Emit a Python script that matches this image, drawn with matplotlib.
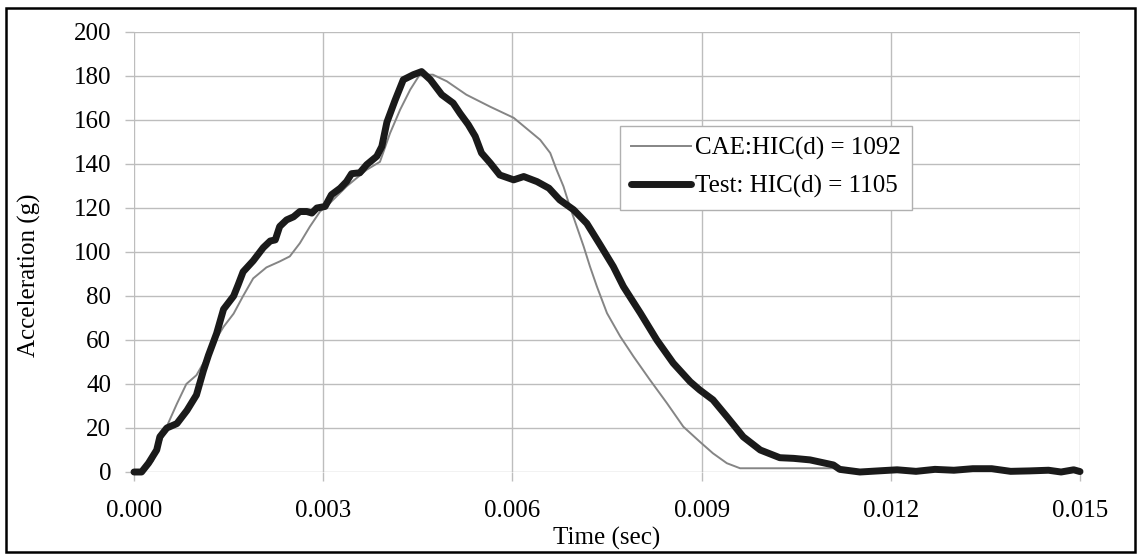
import numpy as np
import matplotlib
matplotlib.use('Agg')
import matplotlib.pyplot as plt
from matplotlib.patches import Rectangle

plt.rcParams['font.family'] = ['Liberation Serif', 'DejaVu Serif']

# test curve (thick black)
test_t = [0, 0.00012, 0.00023, 0.00036, 0.00041, 0.00052, 0.00068, 0.00084, 0.00099, 0.0011,
          0.00118, 0.00131, 0.00142, 0.00158, 0.00165, 0.00173, 0.00189, 0.00205, 0.00216, 0.00224,
          0.00231, 0.00242, 0.00253, 0.00263, 0.00274, 0.00282, 0.0029, 0.00303, 0.00313, 0.00327,
          0.00337, 0.00345, 0.00358, 0.00369, 0.00385, 0.00393, 0.00401, 0.00414, 0.00427, 0.00443,
          0.00456, 0.0047, 0.00488, 0.00506, 0.00517, 0.0053, 0.00541, 0.00551, 0.00565, 0.0058,
          0.00602, 0.00618, 0.00639, 0.00658, 0.00675, 0.00697, 0.00718, 0.00739, 0.0076, 0.00776,
          0.00803, 0.00829, 0.00855, 0.00882, 0.00897, 0.00918, 0.0094, 0.00966, 0.00993, 0.01024,
          0.01046, 0.01072, 0.01109, 0.01119, 0.01151, 0.0118, 0.0121, 0.0124, 0.0127, 0.013,
          0.0133, 0.0136, 0.0139, 0.0142, 0.0145, 0.0147, 0.0149, 0.015]
test_g = [0, 0, 4, 10, 16, 20, 22, 28, 35, 46,
          53, 63, 74, 80, 85, 91, 96, 102, 105, 105.5,
          111.6, 114.6, 116, 118.4, 118.4, 117.7, 120, 120.7, 126, 129,
          132, 135.6, 136, 139.7, 143.5, 148, 159, 169, 178.3, 180.6,
          182, 178.3, 171.5, 167.7, 163, 157.9, 152.6, 145, 140.4, 135,
          132.8, 134.3, 132, 129, 123.7, 119.2, 113, 103.3, 93.4, 84.3,
          72.2, 60, 49.5, 41, 37.3, 32.8, 25.2, 16, 10, 6.5,
          6.2, 5.5, 3.2, 1.2, 0, 0.5, 1, 0.3, 1.2, 0.8,
          1.5, 1.5, 0.3, 0.5, 0.8, 0, 1.0, 0.2]

# CAE curve (thin gray)
cae_t = [0, 0.00015, 0.0003, 0.00054, 0.00068, 0.00083, 0.00099, 0.00113, 0.00126, 0.00142,
         0.00158, 0.00173, 0.00189, 0.0021, 0.00231, 0.00247, 0.00263, 0.00279, 0.00295, 0.00308,
         0.00337, 0.00369, 0.0039, 0.00406, 0.00422, 0.00438, 0.00453, 0.00474, 0.00496, 0.00527,
         0.00565, 0.00602, 0.00623, 0.00644, 0.0066, 0.0067, 0.00681, 0.00691, 0.00702, 0.00713,
         0.00723, 0.00734, 0.0075, 0.00771, 0.00792, 0.00818, 0.00845, 0.00871, 0.00897, 0.00918,
         0.0094, 0.00961, 0.0112, 0.0115, 0.015]
cae_g = [0, 0, 5, 22, 31, 40, 44, 51, 58.5, 66,
         72, 80, 88, 93, 95.7, 98, 104, 111.6, 118.4, 121.5,
         129.8, 137.4, 141, 154, 164.7, 173.8, 180.6, 180.6, 177.6, 171.5,
         166, 161, 156, 151, 145, 137.4, 129.8, 120.7, 111.6, 102.5,
         93.4, 84.3, 72.2, 61.6, 52.5, 41.9, 31.3, 20.6, 13.8, 8.5,
         4, 1.7, 1.7, 0.5, 0.5]

x_ticks = [0, 0.003, 0.006, 0.009, 0.012, 0.015]
x_labels = ['0.000', '0.003', '0.006', '0.009', '0.012', '0.015']
y_ticks = [0, 20, 40, 60, 80, 100, 120, 140, 160, 180, 200]

FS = 18
W, H = 1141, 559
fig = plt.figure(figsize=(W / 100, H / 100), dpi=100)
ax = fig.add_axes([134 / W, 1 - 472 / H, (1080 - 134) / W, (472 - 32) / H])

ax.plot(cae_t, cae_g, color='#858585', lw=1.4, label='CAE:HIC(d) = 1092', zorder=3)
ax.plot(test_t, test_g, color='#1a1a1a', lw=5, label='Test: HIC(d) = 1105',
        solid_capstyle='round', solid_joinstyle='round', clip_on=False, zorder=4)

ax.set_xlim(0, 0.015)
ax.set_ylim(0, 200)
ax.set_xticks(x_ticks, x_labels)
ax.set_yticks(y_ticks)
ax.grid(True, color='#bdbdbd', lw=1.0)
ax.set_axisbelow(True)
for s in ax.spines.values():
    s.set_visible(False)
ax.tick_params(axis='x', direction='out', length=6.5, width=1, color='#bdbdbd', labelsize=FS, pad=14)
ax.tick_params(axis='y', direction='out', length=6.5, width=1, color='#bdbdbd', labelsize=FS, pad=10)

fig.text(607 / W, 1 - 538 / H, 'Time (sec)', fontsize=FS, ha='center', va='center')
fig.text(29 / W, 1 - 275 / H, 'Acceleration (g)', fontsize=FS, rotation=90, ha='center', va='center')

leg = ax.legend(loc='upper left', bbox_to_anchor=(620 / W, 1 - 126 / H), bbox_transform=fig.transFigure,
                borderaxespad=0, fontsize=FS, handlelength=2.4, handletextpad=0.15, fancybox=False,
                framealpha=1, edgecolor='#b0b0b0', borderpad=0.45, labelspacing=0.6)
leg.get_frame().set_linewidth(1)

fig.patches.append(Rectangle((6 / W, 7 / H), (W - 12) / W, (H - 15) / H, transform=fig.transFigure,
                             fill=False, ec='black', lw=1.8))

plt.savefig('out.png', dpi=100)
